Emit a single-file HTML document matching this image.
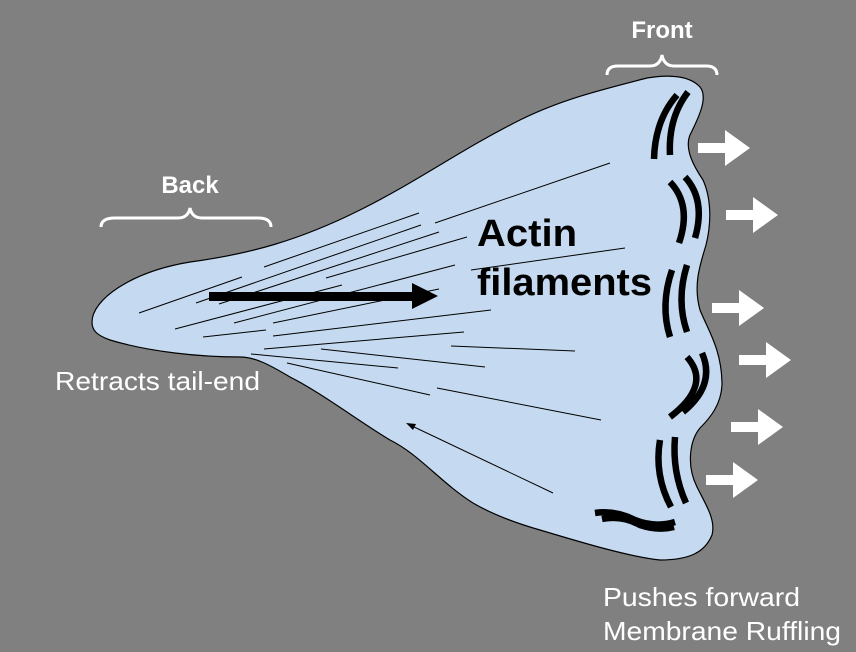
<!DOCTYPE html>
<html><head><meta charset="utf-8"><style>
html,body{margin:0;padding:0;background:#808080;width:856px;height:652px;overflow:hidden}
</style></head><body>
<svg width="856" height="652" viewBox="0 0 856 652" xmlns="http://www.w3.org/2000/svg" font-family="Liberation Sans, sans-serif">
<rect width="856" height="652" fill="#808080"/>
<path d="M92,322 C92,300 130,272 190,262 C250,254 300,240 360,210 C420,180 460,150 520,120 C560,100 600,90 647,78 C670,74 690,76 700,87 C708,97 700,115 690,135 C684,150 695,168 703,180 C712,200 711,225 706,245 C700,265 693,285 700,310 C708,330 722,350 722,385 C721,405 710,418 700,428 C690,440 686,465 697,487 C706,505 716,520 712,535 C705,552 690,560 660,560 C630,557 580,542 540,530 C505,520 485,510 473,503 C440,482 420,455 390,440 C360,422 320,392 290,377 C270,365 255,357 240,357 C200,357 150,352 110,340 C96,335 92,330 92,322 Z" fill="#c5daf0" stroke="#000" stroke-width="1.2"/>
<g stroke="#000" stroke-width="1">
<line x1="610" y1="163" x2="435" y2="223"/>
<line x1="419" y1="213" x2="264" y2="267"/>
<line x1="421" y1="225" x2="196" y2="303"/>
<line x1="439" y1="232" x2="219" y2="304"/>
<line x1="467" y1="237" x2="326" y2="278"/>
<line x1="625" y1="248" x2="471" y2="270"/>
<line x1="455" y1="265" x2="234" y2="323"/>
<line x1="342" y1="285" x2="175" y2="329"/>
<line x1="242" y1="277" x2="139" y2="313"/>
<line x1="439" y1="289" x2="273" y2="323"/>
<line x1="491" y1="310" x2="273" y2="336"/>
<line x1="266" y1="330" x2="203" y2="337"/>
<line x1="464" y1="332" x2="264" y2="349"/>
<line x1="575" y1="351" x2="451" y2="346"/>
<line x1="485" y1="367" x2="321" y2="349"/>
<line x1="398" y1="368" x2="251" y2="354"/>
<line x1="430" y1="395" x2="287" y2="363"/>
<line x1="601" y1="420" x2="437" y2="388"/>
<line x1="553" y1="493" x2="412" y2="426"/>
</g>
<polygon points="406,423 416,424 413,430" fill="#000"/>
<rect x="209" y="292" width="205" height="9" fill="#000"/>
<polygon points="412,283 438,296 412,309" fill="#000"/>
<g stroke="#000" stroke-width="6.5" fill="none" stroke-linecap="butt">
<path d="M677,95 Q655,120 654,159"/><path d="M688,92 Q668,118 670,155"/>
<path d="M670,182 Q692,205 679,243"/><path d="M685,177 Q706,200 695,238"/>
<path d="M672,270 Q660,305 670,337"/><path d="M687,265 Q676,300 687,332"/>
<path d="M687,357 Q712,385 670,417"/><path d="M702,353 Q716,385 683,412"/>
<path d="M660,440 Q654,475 671,507"/><path d="M675,437 Q672,472 686,503"/>
<path d="M595,513 Q615,510 635,520 Q655,528 675,522"/><path d="M602,519 Q622,515 640,525 Q658,531 674,527"/>
</g>
<g fill="#fff">
<path d="M698,143 h27 v-13 l25,18 l-25,18 v-13 h-27 z"/>
<path d="M726,210 h27 v-13 l25,18 l-25,18 v-13 h-27 z"/>
<path d="M712,303 h27 v-13 l25,18 l-25,18 v-13 h-27 z"/>
<path d="M739,355 h27 v-13 l25,18 l-25,18 v-13 h-27 z"/>
<path d="M731,422 h27 v-13 l25,18 l-25,18 v-13 h-27 z"/>
<path d="M706,475 h27 v-13 l25,18 l-25,18 v-13 h-27 z"/>
</g>
<g stroke="#fff" stroke-width="3" fill="none">
<path d="M101,227 Q101,218 115,218 L178,218 Q188,218 190,208 Q192,218 202,218 L258,218 Q271,218 271,227"/>
<path d="M607,75 Q607,66 618,66 L650,66 Q660,66 662,55 Q664,66 674,66 L706,66 Q717,66 717,75"/>
</g>
<g fill="#fff" font-weight="bold" font-size="24" text-anchor="middle">
<text x="190" y="193">Back</text>
<text x="662" y="38">Front</text>
</g>
<g font-weight="bold" font-size="38" fill="#000">
<text x="477" y="246" textLength="100" lengthAdjust="spacingAndGlyphs">Actin</text>
<text x="477" y="295" textLength="175" lengthAdjust="spacingAndGlyphs">filaments</text>
</g>
<g fill="#fff" font-size="26">
<text x="55" y="390" textLength="205" lengthAdjust="spacingAndGlyphs">Retracts tail-end</text>
<text x="603" y="606" textLength="197" lengthAdjust="spacingAndGlyphs">Pushes forward</text>
<text x="603" y="640" textLength="238" lengthAdjust="spacingAndGlyphs">Membrane Ruffling</text>
</g>
</svg>
</body></html>
